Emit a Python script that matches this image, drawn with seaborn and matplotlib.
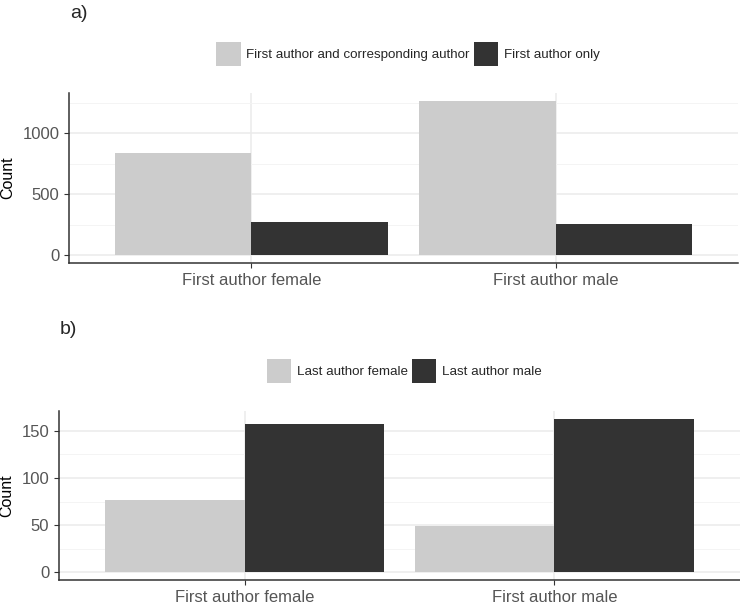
import seaborn as sns
import matplotlib
matplotlib.use("Agg")
import matplotlib.pyplot as plt
from matplotlib.ticker import MultipleLocator
import pandas as pd

# panel a
first_author = ["First author female", "First author male"]
role_groups = ["First author and corresponding author", "First author only"]
role_counts = [[840, 272], [1267, 253]]  # rows: first author, cols: role group

# panel b
last_author_groups = ["Last author female", "Last author male"]
last_counts = [[77, 157], [49, 163]]

bar_colors = ["#cccccc", "#333333"]

sns.set_theme(style="white")
plt.rcParams['font.family'] = ['Liberation Sans', 'DejaVu Sans']


def long_table(cats, groups, counts):
    rows = []
    for c, vals in zip(cats, counts):
        for g, v in zip(groups, vals):
            rows.append({"cat": c, "group": g, "count": v})
    return pd.DataFrame(rows)


def draw_panel(ax, df, groups, major, minor, tag, legend_y):
    sns.barplot(data=df, x="cat", y="count", hue="group", hue_order=groups,
                palette=bar_colors, width=0.9, gap=0, saturation=1,
                linewidth=0, ax=ax, zorder=2)
    handles, labels = ax.get_legend_handles_labels()
    ax.get_legend().remove()

    ymax = df["count"].max()
    ax.set_ylim(-0.05 * ymax, 1.05 * ymax)
    ax.set_xlim(-0.6, 1.6)
    ax.yaxis.set_major_locator(MultipleLocator(major))
    ax.yaxis.set_minor_locator(MultipleLocator(minor))
    ax.set_axisbelow(True)
    ax.grid(which="major", axis="both", color="#ebebeb", lw=1.1, zorder=0)
    ax.grid(which="minor", axis="y", color="#f3f3f3", lw=0.6, zorder=0)

    for s in ["top", "right"]:
        ax.spines[s].set_visible(False)
    for s in ["left", "bottom"]:
        ax.spines[s].set_color("#333333")
        ax.spines[s].set_linewidth(1.1)

    ax.tick_params(axis="both", which="major", length=3.5, width=0.8,
                   color="#333333", labelsize=12, labelcolor="#555555", pad=3.5,
                   left=True, bottom=True)
    ax.tick_params(axis="y", which="minor", length=0)
    ax.set_xlabel("")
    ax.set_ylabel("Count", fontsize=11.5, color="black", labelpad=5)

    pos = ax.get_position()
    ax.text(pos.x0 + 0.001, legend_y[1], tag, transform=fig.transFigure,
            fontsize=14, ha="left", va="center")
    fig.legend(handles, labels, loc="center",
               bbox_to_anchor=((pos.x0 + pos.x1) / 2 + 0.006, legend_y[0]),
               bbox_transform=fig.transFigure, ncol=2, frameon=False,
               fontsize=9.6, handlelength=1.85, handleheight=2.3,
               handletextpad=0.4, columnspacing=0.3, borderpad=0)


fig = plt.figure(figsize=(7.4, 6.04), dpi=100)
ax_a = fig.add_axes([69 / 740, (604 - 263) / 604, 669 / 740, 170 / 604])
ax_b = fig.add_axes([59 / 740, (604 - 580) / 604, 681 / 740, 169 / 604])

draw_panel(ax_a, long_table(first_author, role_groups, role_counts), role_groups,
           500, 250, "a)", ((604 - 54) / 604, (604 - 14) / 604))
draw_panel(ax_b, long_table(first_author, last_author_groups, last_counts),
           last_author_groups, 50, 25, "b)", ((604 - 371) / 604, (604 - 329) / 604))

fig.savefig("out.png", dpi=100, facecolor="white")
